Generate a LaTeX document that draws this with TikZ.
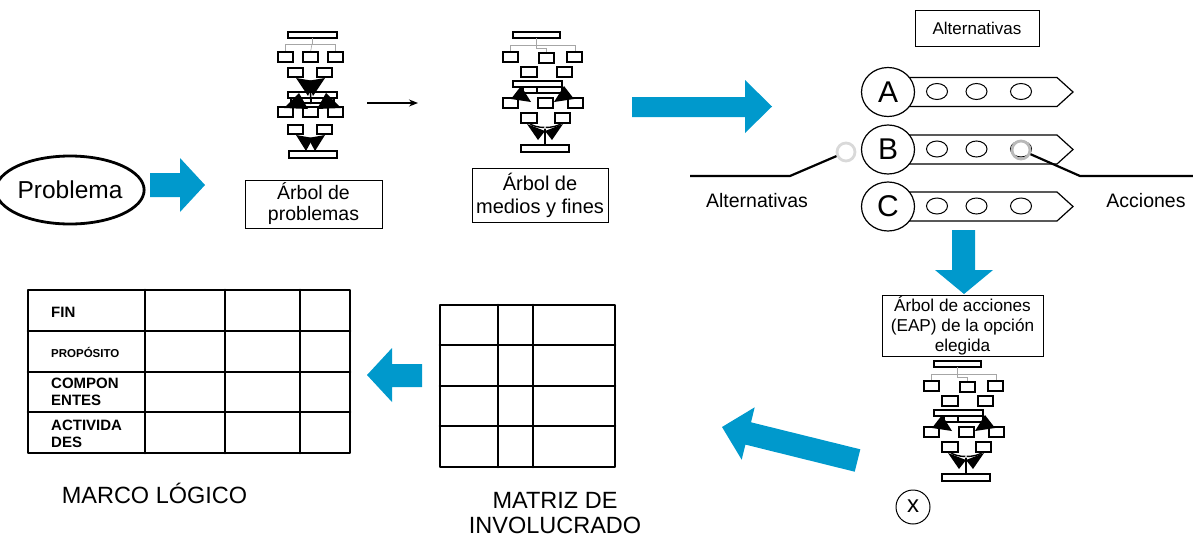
\documentclass[tikz,border=0pt]{standalone}
\usepackage{fontspec}
\setmainfont{Liberation Sans}
\usetikzlibrary{arrows.meta,shapes.geometric}
\definecolor{blueA}{RGB}{0,153,204}
\newcommand{\myfs}[2]{\fontsize{#1}{#2}\selectfont}
\newcommand{\drawtreeB}{%
  % top box and gray connectors
  \draw[tb] (513,32) rectangle (560,38);
  \draw[gl] (536,38) -- (536,45);
  \draw[gl] (510,52) -- (510,45) -- (575,45) -- (575,52);
  \draw[gl] (536,45) -- (536,48) -- (546,48) -- (546,53);
  \draw[tb] (503,52) rectangle (518,62);
  \draw[tb] (539,53) rectangle (554,63);
  \draw[tb] (567,52) rectangle (582,62);
  \draw[tb] (521,67) rectangle (537,77);
  \draw[tb] (557,67) rectangle (572,77);
  \draw[tb] (513,81) rectangle (562,87);
  \draw[tb] (523,87) rectangle (537,93);
  \draw[tb] (537,87) rectangle (562,93);
  \draw[tb] (503,98) rectangle (518,108);
  \draw[tb] (538,98) rectangle (553,108);
  \draw[tb] (568,98) rectangle (583,108);
  \draw[tb] (521,113) rectangle (537,123);
  \draw[tb] (555,113) rectangle (570,123);
  \draw[tb] (521,145) rectangle (569,152);
  \fill (511,99) -- (521,86) -- (531,102) -- cycle;
  \fill (574,99) -- (564,86) -- (554,102) -- cycle;
  \draw[line width=1.4pt] (529,123) .. controls (535,129) and (555,129) .. (562,123);
  \fill (527,124) -- (545,131) -- (538,140) -- cycle;
  \fill (563,124) -- (545,131) -- (552,140) -- cycle;
  \draw[line width=1.8pt] (545,128) -- (545,145);
  \fill[white] (545,128) circle (1.2pt);
}
\begin{document}
\begin{tikzpicture}[x=1pt,y=-1pt,
  tb/.style={draw, line width=1.3pt},
  gl/.style={draw=gray!70, line width=0.6pt},
  lbox/.style={draw, line width=1pt, align=center, inner sep=0pt},
  grd/.style={line width=2.6pt, line join=round, line cap=round},
  smell/.style={ellipse, draw, line width=1pt, minimum width=21pt, minimum height=16pt, inner sep=0pt},
  letc/.style={ellipse, draw, fill=white, line width=1.2pt, minimum width=53pt, minimum height=49pt, inner sep=0pt, font=\myfs{30}{32}},
  ring/.style={circle, line width=2.8pt, minimum size=18pt, inner sep=0pt}
]
\useasboundingbox (0,0) rectangle (1193,541);

% ---------- Problema ----------
\node[ellipse, draw, line width=2.8pt, minimum width=124pt, minimum height=68pt, inner sep=0pt, font=\myfs{24.5}{26}] (prob) at (70,190) {Problema};
\fill[blueA] (150,173) -- (180,173) -- (180,158) -- (205,185) -- (180,212) -- (180,197) -- (150,197) -- cycle;

% ---------- Tree 1 ----------
\draw[tb] (288,32) rectangle (337,38);
\draw[gl] (312,38) -- (312,44);
\draw[gl] (285.5,52) -- (285.5,44) -- (335.5,44) -- (335.5,52);
\draw[gl] (312,44) -- (310.5,52);
\draw[tb] (278,52) rectangle (293,62);
\draw[tb] (303,52) rectangle (318,62);
\draw[tb] (328,52) rectangle (343,62);
\draw[tb] (288,68) rectangle (303,77);
\draw[tb] (317,68) rectangle (332,77);
\draw[tb] (288,92) rectangle (337,98);
\draw[tb] (291,98) rectangle (311,103);
\draw[tb] (311,98) rectangle (334,103);
\draw[tb] (278,107) rectangle (293,117);
\draw[tb] (303,107) rectangle (318,117);
\draw[tb] (328,107) rectangle (343,117);
\draw[tb] (288,125) rectangle (303,134);
\draw[tb] (317,125) rectangle (332,134);
\draw[tb] (289,151) rectangle (337,158);
% converging heads (row 2 -> middle)
\fill (296,78) -- (314,81) -- (308,96) -- cycle;
\fill (325,78) -- (307,81) -- (313,96) -- cycle;
\draw[line width=1.6pt] (310,82) -- (311,104);
% diverging heads (middle -> row 3)
\fill (284,108) -- (299,93) -- (308,109) -- cycle;
\fill (341,108) -- (326,93) -- (317,109) -- cycle;
% converging heads (row 4 -> bottom)
\fill (296,135) -- (313,138) -- (306,151) -- cycle;
\fill (325,135) -- (308,138) -- (315,151) -- cycle;

\node[lbox, minimum width=137pt, minimum height=48pt, font=\myfs{19.5}{21}] (lab1) at (313.5,204) {Árbol de\\problemas};

% thin arrow
\coordinate (ta) at (367,103);
\coordinate (tb2) at (418,103);
\draw[line width=1.2pt, -{Stealth[length=9pt,width=7pt]}] (ta) -- (tb2);

% ---------- Tree 2 ----------
\drawtreeB
\node[lbox, minimum width=136pt, minimum height=54pt, font=\myfs{20}{23}] (lab2) at (540,195) {Árbol de\\medios y fines};

% big arrow right
\fill[blueA] (632,97) -- (745,97) -- (745,80) -- (772,106.5) -- (745,133) -- (745,117) -- (632,117) -- cycle;

% ---------- Alternatives ----------
\node[draw, line width=1pt, minimum width=124pt, minimum height=36pt, inner sep=0pt, font=\myfs{17}{19}] (alt) at (977,28) {Alternativas};

\foreach \c/\L in {92/A,149.5/B,206.5/C}{
  \draw[line width=1.2pt, fill=white] (905,{\c-14.5}) -- (1057,{\c-14.5}) -- (1073,\c) -- (1057,{\c+14.5}) -- (905,{\c+14.5}) -- cycle;
  \node[smell] (e1\L) at (937,{\c-0.5}) {};
  \node[smell] (e2\L) at (976.5,{\c-0.5}) {};
  \node[smell] (e3\L) at (1021,{\c-0.5}) {};
  \node[letc] (circ\L) at (888,\c) {\raisebox{-1pt}{\L}};
}
\node[ring, draw=gray!30] (gL) at (846,152) {};
\node[ring, draw=gray!55] (gR) at (1021,150) {};
\coordinate (lA) at (690,176);
\coordinate (lB) at (1193,176);
\draw[line width=2.2pt] (lA) -- (790,176) -- (gL);
\draw[line width=2.2pt] (gR) -- (1080,176) -- (lB);
\node[font=\myfs{19.5}{21}] (altL) at (757,201) {Alternativas};
\node[font=\myfs{19.5}{21}] (acc) at (1146,201) {Acciones};

% down arrow
\fill[blueA] (952,230) -- (975,230) -- (975,270) -- (993,270) -- (964,294) -- (935,270) -- (952,270) -- cycle;

\node[lbox, minimum width=161pt, minimum height=61pt, font=\myfs{17.2}{20}] (lab3) at (962.5,326) {Árbol de acciones\\(EAP) de la opción\\elegida};

% ---------- Tree 3 ----------
\begin{scope}[shift={(421,329)}]
\drawtreeB
\end{scope}
\node[circle, draw, line width=1pt, minimum size=34pt, inner sep=0pt, font=\myfs{24}{26}] (xc) at (913,507) {\raisebox{1pt}{x}};

% diagonal arrow
\fill[blueA] (722,427) -- (754.7,407.3) -- (751,422.3) -- (860.3,449.3) -- (854.7,471.7) -- (745.4,444.6) -- (741.7,459.7) -- cycle;

% ---------- Matriz de involucrados ----------
\draw[grd] (440,305) rectangle (615,467);
\draw[grd] (498,305) -- (498,467);
\draw[grd] (533,305) -- (533,467);
\draw[grd] (440,345) -- (615,345);
\draw[grd] (440,386) -- (615,386);
\draw[grd] (440,426) -- (615,426);
\node[align=center, font=\myfs{23.5}{24.5}] (mat) at (555,513) {MATRIZ DE\\INVOLUCRADO};

% left arrow
\fill[blueA] (422,364) -- (392,364) -- (392,348) -- (367,375) -- (392,402) -- (392,387) -- (422,387) -- cycle;

% ---------- Marco logico ----------
\draw[grd] (28,290) rectangle (350,453);
\draw[grd] (145,290) -- (145,453);
\draw[grd] (225,290) -- (225,453);
\draw[grd] (300,290) -- (300,453);
\draw[grd] (28,331) -- (350,331);
\draw[grd] (28,372) -- (350,372);
\draw[grd] (28,412) -- (350,412);
\node[anchor=west, inner sep=0pt, font=\bfseries\myfs{15}{17}] (fin) at (51,312) {FIN};
\node[anchor=west, inner sep=0pt, font=\bfseries\myfs{11.5}{13}] (prop) at (51,352) {PROPÓSITO};
\node[anchor=west, inner sep=0pt, align=left, font=\bfseries\myfs{15}{17}] (comp) at (51,391.5) {COMPON\\ENTES};
\node[anchor=west, inner sep=0pt, align=left, font=\bfseries\myfs{15}{17}] (act) at (51,433.5) {ACTIVIDA\\DES};
\node[font=\myfs{23.5}{25}] (marco) at (154.5,493) {MARCO LÓGICO};
\end{tikzpicture}
\end{document}
